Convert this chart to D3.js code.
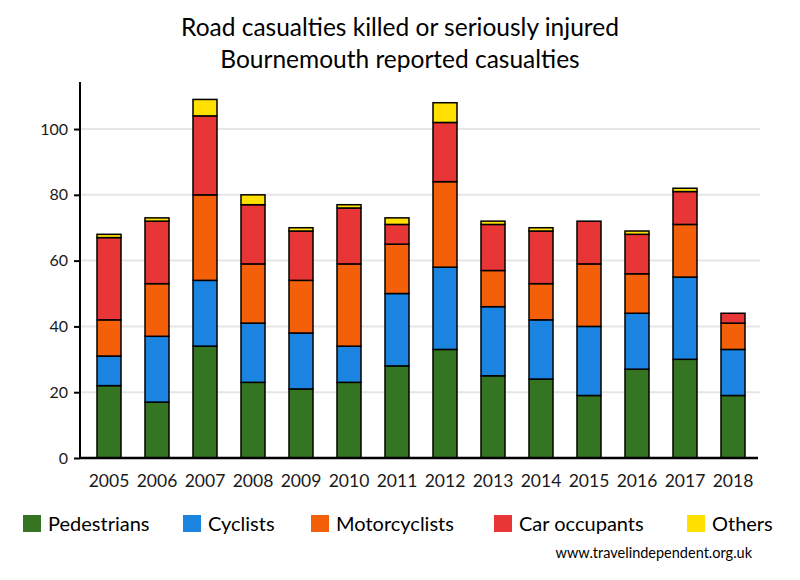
<!DOCTYPE html>
<html><head><meta charset="utf-8">
<script src="https://cdn.jsdelivr.net/npm/d3@7"></script>
<style>body{margin:0;background:#fff;} svg{display:block;} text{font-family:Lato, "Open Sans", sans-serif;}</style>
</head><body>
<svg id="c" width="800" height="580"></svg>
<script>
const years = ["2005","2006","2007","2008","2009","2010","2011","2012","2013","2014","2015","2016","2017","2018"];
const seriesNames = ["Pedestrians","Cyclists","Motorcyclists","Car occupants","Others"];
const pedestrians   = [22,17,34,23,21,23,28,33,25,24,19,27,30,19];
const cyclists      = [9,20,20,18,17,11,22,25,21,18,21,17,25,14];
const motorcyclists = [11,16,26,18,16,25,15,26,11,11,19,12,16,8];
const carOccupants  = [25,19,24,18,15,17,6,18,14,16,13,12,10,3];
const others        = [1,1,5,3,1,1,2,6,1,1,0,1,1,0];
const yTicks = [0,20,40,60,80,100];
const colors = ["#357521","#1b83e0","#f45f0a","#e83535","#ffe000"];

const seriesData = [pedestrians, cyclists, motorcyclists, carOccupants, others];
const rows = years.map((y,i)=>{const r={year:y}; seriesNames.forEach((s,k)=>r[s]=seriesData[k][i]); return r;});
const stacked = d3.stack().keys(seriesNames)(rows);

const svg = d3.select("#c");
const x = d3.scaleBand().domain(years).range([85,757]).paddingInner(0.5).paddingOuter(0.25);
const y = d3.scaleLinear().domain([0,114.3]).range([458,82]);

// gridlines
svg.append("g").selectAll("line").data(yTicks.filter(t=>t>0)).join("line")
  .attr("x1",80).attr("x2",760).attr("y1",d=>y(d)).attr("y2",d=>y(d))
  .attr("stroke","#e6e6e6").attr("stroke-width",2);

// bars
svg.append("g").selectAll("g").data(stacked).join("g")
  .attr("fill",(d,i)=>colors[i])
  .selectAll("rect").data(d=>d.filter(p=>p[1]-p[0]>0)).join("rect")
  .attr("x",d=>x(d.data.year)).attr("width",x.bandwidth())
  .attr("y",d=>y(d[1])).attr("height",d=>y(d[0])-y(d[1]))
  .attr("stroke","#000").attr("stroke-width",1.5);

// y axis
const ya = svg.append("g").attr("transform","translate(80,0)")
  .call(d3.axisLeft(y).tickValues(yTicks).tickSize(6).tickPadding(6));
ya.select(".domain").attr("d","M0,82V458").attr("stroke","#000").attr("stroke-width",2);
ya.selectAll(".tick line").attr("stroke","#000").attr("stroke-width",2);
ya.selectAll(".tick text").attr("font-size",16).attr("fill","#1a1a1a").style("font-family","Lato, sans-serif");

// x axis
const xa = svg.append("g").attr("transform","translate(0,458)")
  .call(d3.axisBottom(x).tickSize(0).tickPadding(17));
xa.select(".domain").attr("d","M80,0H758").attr("stroke","#000").attr("stroke-width",2.5);
xa.selectAll(".tick text").attr("font-size",17.5).attr("fill","#1a1a1a").style("font-family","Lato, sans-serif");

// title
svg.append("text").attr("x",400).attr("y",36).attr("text-anchor","middle")
  .attr("font-size",24.5).attr("fill","#000").text("Road casualties killed or seriously injured");
svg.append("text").attr("x",400).attr("y",68).attr("text-anchor","middle")
  .attr("font-size",24.5).attr("fill","#000").text("Bournemouth reported casualties");

// legend
const legX = [23,183,311,494,687];
const leg = svg.append("g").selectAll("g").data(seriesNames).join("g")
  .attr("transform",(d,i)=>`translate(${legX[i]},515)`);
leg.append("rect").attr("width",18).attr("height",17).attr("fill",(d,i)=>colors[i]);
leg.append("text").attr("x",25).attr("y",16).attr("font-size",20).attr("fill","#000").text(d=>d);

svg.append("text").attr("x",752).attr("y",558).attr("text-anchor","end")
  .attr("font-size",14.5).attr("fill","#000").text("www.travelindependent.org.uk");
</script>
</body></html>
